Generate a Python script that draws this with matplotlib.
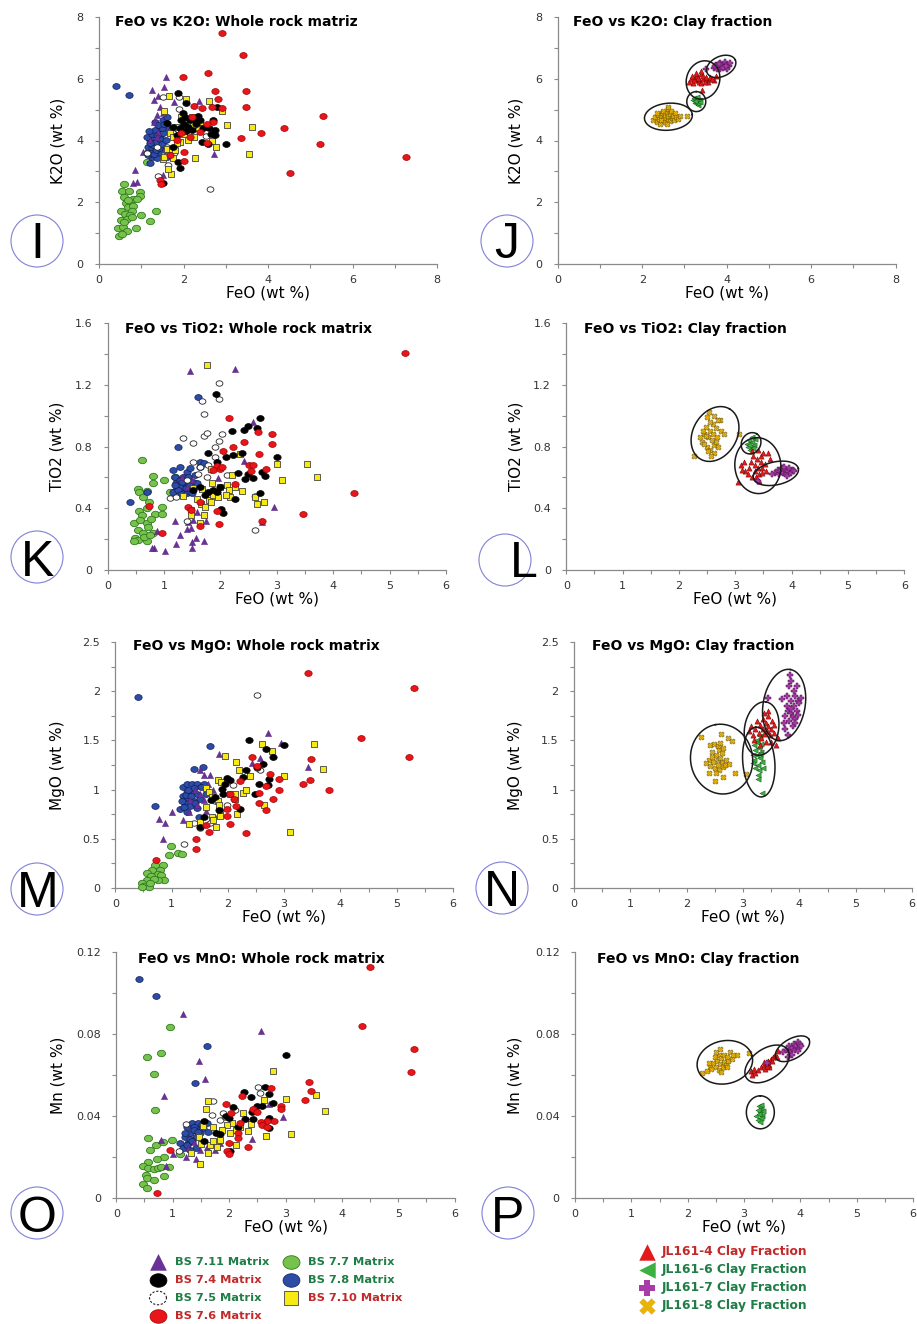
import numpy as np
import matplotlib
matplotlib.use('Agg')
import matplotlib.pyplot as plt
from matplotlib.ticker import MultipleLocator, FuncFormatter
from matplotlib.path import Path

W, H = 917, 1324

# ---------------- DATA: whole rock matrix (FeO, oxide) ----------------
# Panel I: FeO vs K2O
I_BS711 = [(1.58,6.05),(1.25,5.64),(1.54,5.73),(1.29,5.31),(1.40,5.44),(1.78,5.26),(2.37,5.29),(1.44,5.10),(1.37,4.83),(1.52,4.88),(1.29,4.61),(1.40,4.29),(1.05,3.64),(0.85,3.04),(0.80,2.63),(0.89,2.66),(1.51,2.88),(2.72,3.55),(1.37,4.12),(1.21,4.02),(1.68,4.39)]
I_BS74 = [(1.86,5.55),(2.07,5.21),(1.99,4.88),(1.60,4.58),(1.76,4.45),(2.04,4.77),(2.35,4.79),(2.39,4.66),(2.47,4.39),(2.71,4.66),(2.75,4.34),(2.75,4.18),(2.80,5.08),(3.01,3.90),(2.43,3.96),(2.59,3.89),(1.92,3.10),(1.88,3.31),(1.51,2.63),(1.92,4.39),(1.84,4.18),(2.15,4.66),(1.76,3.80),(2.00,4.55),(2.10,4.45),(2.20,4.35),(2.30,4.55),(2.05,4.30),(2.25,4.70),(1.95,4.65),(2.60,4.40),(2.65,4.20)]
I_BS75 = [(1.52,5.42),(1.89,5.42),(1.89,5.03),(2.53,4.15),(2.63,2.42),(1.40,2.86),(1.64,3.20),(1.78,3.60),(1.13,3.58),(1.60,3.80),(1.37,3.80),(1.76,4.23)]
I_BS76 = [(2.90,7.48),(3.42,6.76),(2.59,6.19),(1.99,6.07),(2.75,5.61),(3.47,5.61),(2.82,5.34),(3.47,5.09),(2.67,5.09),(2.92,5.05),(2.26,5.12),(2.44,5.04),(5.29,4.78),(4.37,4.40),(3.83,4.25),(3.35,4.08),(5.23,3.90),(7.27,3.47),(4.51,2.95),(2.71,4.59),(2.55,4.53),(2.19,4.77),(2.00,3.64),(2.00,3.33),(1.44,2.72),(1.47,2.58),(2.15,4.12),(1.95,4.23),(1.68,3.53),(1.84,4.02),(2.39,4.29),(2.55,3.91)]
I_BS77 = [(0.60,2.58),(0.54,2.36),(0.72,2.36),(0.58,2.18),(0.97,2.32),(0.96,2.20),(0.80,2.10),(0.91,2.12),(0.64,1.99),(0.69,1.85),(0.81,1.87),(0.51,1.72),(0.77,1.72),(1.35,1.71),(0.99,1.60),(0.62,1.63),(0.73,1.58),(0.51,1.44),(0.66,1.47),(1.21,1.40),(0.77,1.53),(0.88,1.18),(0.46,1.17),(0.56,1.20),(0.66,1.06),(0.48,0.90),(0.54,0.98),(1.13,3.29),(0.58,1.36),(0.69,2.07)]
I_BS78 = [(0.41,5.76),(0.71,5.47),(1.21,3.28),(1.17,3.64),(1.25,3.47),(1.33,3.80),(1.21,4.02),(1.29,4.12),(1.37,4.29),(1.44,4.45),(1.52,4.66),(1.60,4.77),(1.64,4.39),(1.48,3.96),(1.40,3.58),(1.56,3.69),(1.29,3.91),(1.17,3.80),(1.37,3.42),(1.25,3.75),(1.44,4.12),(1.52,4.23),(1.13,4.12),(1.33,4.61),(1.60,3.47),(1.15,3.52),(1.22,3.60),(1.30,3.55),(1.35,3.68),(1.42,3.75),(1.28,3.85),(1.36,3.95),(1.45,4.05),(1.25,4.20),(1.32,4.35),(1.50,4.40),(1.40,4.50),(1.55,4.55),(1.20,3.92),(1.48,3.88),(1.38,4.18),(1.58,4.02),(1.18,4.30)]
I_BS710 = [(1.66,5.43),(2.07,5.34),(2.61,5.28),(2.92,4.96),(1.54,4.95),(3.02,4.49),(3.61,4.45),(3.55,3.56),(2.27,3.43),(2.78,3.79),(2.67,3.97),(1.70,2.93),(1.64,3.08),(1.76,3.43),(1.52,3.39),(1.55,3.47),(2.19,4.77),(2.03,4.56),(1.84,4.45),(1.95,4.34),(2.11,4.39),(1.68,4.23),(1.76,4.12),(1.91,3.96),(2.11,4.02),(1.60,3.74),(1.72,3.74),(1.84,3.91),(2.35,4.39),(2.23,4.50),(1.95,4.77),(2.00,4.20),(2.25,4.10),(1.80,3.70),(2.40,4.60)]

# Panel K: FeO vs TiO2
K_BS711 = [(1.46,1.291),(2.25,1.306),(2.57,0.962),(2.42,0.707),(2.95,0.411),(2.73,0.309),(1.19,0.318),(1.28,0.227),(1.22,0.166),(1.02,0.125),(0.83,0.141),(0.78,0.141),(0.88,0.253),(1.40,0.264),(1.57,0.205),(1.70,0.190),(1.50,0.179),(1.50,0.141),(1.74,0.318),(1.48,0.275),(1.52,0.324),(1.43,0.309),(1.58,0.378),(1.31,0.605),(1.49,0.584),(1.40,0.541),(1.96,0.595)]
K_BS74 = [(1.92,1.144),(2.71,0.986),(2.48,0.932),(2.64,0.919),(2.20,0.902),(2.42,0.908),(1.78,0.757),(2.09,0.733),(2.22,0.748),(2.38,0.761),(3.00,0.733),(1.93,0.703),(2.31,0.627),(2.49,0.623),(2.58,0.595),(2.73,0.636),(2.79,0.610),(2.44,0.590),(2.70,0.497),(2.26,0.463),(2.01,0.396),(2.05,0.368),(1.87,0.519),(1.78,0.508),(1.99,0.541),(1.64,0.541),(1.52,0.519),(1.72,0.486),(1.93,0.508)]
K_BS75 = [(1.98,1.211),(1.98,1.107),(1.68,1.096),(1.71,1.010),(1.34,0.856),(1.52,0.826),(1.71,0.869),(1.77,0.886),(2.03,0.880),(1.97,0.837),(1.91,0.800),(1.90,0.735),(1.52,0.703),(1.64,0.670),(1.78,0.681),(1.61,0.623),(2.11,0.616),(2.61,0.480),(2.61,0.259),(1.40,0.320),(1.11,0.465),(1.22,0.476),(1.40,0.584),(1.76,0.605),(1.84,0.649)]
K_BS76 = [(5.28,1.41),(4.36,0.497),(3.46,0.365),(2.15,0.984),(2.23,0.798),(2.04,0.772),(2.42,0.828),(2.66,0.893),(2.92,0.884),(2.92,0.817),(2.68,0.755),(2.51,0.681),(2.58,0.681),(2.80,0.657),(1.94,0.675),(1.99,0.653),(2.55,0.640),(2.25,0.556),(2.74,0.318),(1.98,0.298),(1.94,0.381),(1.63,0.288),(1.43,0.411),(1.47,0.389),(0.74,0.417),(0.96,0.240),(1.87,0.649),(2.02,0.670),(1.64,0.443)]
K_BS77 = [(0.60,0.714),(0.80,0.612),(0.80,0.566),(0.54,0.525),(0.56,0.508),(0.70,0.515),(1.00,0.584),(1.20,0.605),(1.11,0.508),(0.63,0.476),(0.74,0.443),(0.97,0.411),(0.55,0.385),(0.69,0.400),(0.84,0.363),(0.96,0.361),(0.61,0.357),(0.47,0.303),(0.57,0.324),(0.70,0.303),(0.76,0.329),(0.53,0.259),(0.71,0.281),(0.63,0.238),(0.81,0.242),(0.48,0.205),(0.54,0.195),(0.46,0.190),(0.69,0.190),(0.65,0.216),(0.75,0.227)]
K_BS78 = [(1.60,1.120),(1.25,0.800),(0.70,0.508),(0.40,0.441),(1.15,0.649),(1.29,0.670),(1.64,0.703),(1.40,0.638),(1.19,0.605),(1.22,0.562),(1.28,0.584),(1.34,0.551),(1.37,0.519),(1.43,0.562),(1.49,0.541),(1.31,0.508),(1.22,0.519),(1.40,0.497),(1.52,0.573),(1.55,0.616),(1.34,0.605),(1.46,0.508),(1.16,0.508),(1.58,0.562),(1.28,0.541),(1.64,0.670),(1.70,0.692),(1.46,0.659),(1.25,0.520),(1.32,0.570),(1.38,0.530),(1.45,0.550),(1.30,0.490),(1.42,0.600),(1.20,0.550),(1.50,0.500)]
K_BS710 = [(1.77,1.330),(2.35,0.750),(3.01,0.690),(3.54,0.685),(3.71,0.601),(3.10,0.586),(2.21,0.614),(1.83,0.657),(1.52,0.530),(1.33,0.480),(1.68,0.528),(1.85,0.562),(1.99,0.541),(2.12,0.551),(2.15,0.519),(2.17,0.476),(2.26,0.541),(2.39,0.515),(2.61,0.476),(2.78,0.443),(2.65,0.428),(1.59,0.458),(1.65,0.428),(1.73,0.406),(1.48,0.389),(1.47,0.357),(1.71,0.359),(1.63,0.303),(1.79,0.454),(1.87,0.486),(1.96,0.476),(1.84,0.443),(2.10,0.486)]

# Panel M: FeO vs MgO
M_BS711 = [(2.72,1.58),(2.94,1.47),(3.42,1.23),(2.57,1.32),(2.42,1.27),(1.84,1.36),(1.50,1.20),(1.57,1.15),(1.69,1.15),(0.78,0.70),(0.88,0.66),(1.01,0.77),(0.85,0.50),(1.20,0.69),(1.31,0.77),(1.50,0.96),(1.42,1.00),(1.57,0.89),(1.33,0.89),(1.74,1.00),(1.65,1.06),(1.45,0.84),(1.62,0.78)]
M_BS74 = [(2.38,1.50),(2.67,1.41),(3.00,1.45),(2.80,1.33),(2.63,1.26),(2.51,1.23),(2.32,1.20),(1.98,1.12),(2.04,1.10),(1.95,1.06),(2.26,1.13),(2.56,1.06),(2.73,1.11),(2.72,1.05),(2.48,0.96),(1.92,0.96),(1.78,0.92),(1.70,0.89),(1.84,0.79),(2.22,0.80),(1.58,0.72),(1.50,0.62),(1.89,1.01)]
M_BS75 = [(2.51,1.96),(1.22,0.45),(2.10,1.05),(2.57,1.20),(2.51,1.22),(1.99,0.84),(1.74,0.72),(1.68,0.66),(1.50,0.61),(1.39,0.66),(1.77,0.88),(1.86,0.78)]
M_BS76 = [(3.42,2.19),(5.30,2.03),(4.36,1.52),(5.22,1.33),(3.47,1.31),(3.34,1.06),(3.46,1.10),(3.80,1.00),(2.91,1.11),(2.91,1.00),(2.81,0.90),(2.74,1.16),(2.67,1.04),(2.56,0.86),(2.67,0.79),(2.33,0.56),(2.42,1.33),(2.51,1.24),(2.22,1.09),(2.03,0.96),(2.14,0.83),(1.98,0.80),(1.98,0.73),(2.04,0.65),(1.67,0.57),(1.62,0.64),(1.44,0.50),(1.43,0.40),(0.73,0.28),(2.56,0.97),(2.11,0.90)]
M_BS77 = [(0.99,0.43),(0.96,0.34),(1.12,0.36),(1.19,0.35),(0.70,0.23),(0.85,0.23),(0.79,0.18),(0.66,0.18),(0.56,0.15),(0.75,0.14),(0.81,0.13),(0.64,0.12),(0.86,0.08),(0.75,0.08),(0.56,0.08),(0.47,0.05),(0.51,0.02),(0.59,0.01),(0.47,0.01),(0.69,0.09),(0.62,0.05)]
M_BS78 = [(0.40,1.94),(1.68,1.44),(1.40,1.21),(1.55,1.23),(0.70,0.83),(1.20,1.03),(1.27,1.06),(1.36,1.06),(1.45,1.06),(1.58,1.06),(1.27,0.98),(1.36,1.00),(1.45,0.96),(1.21,0.93),(1.30,0.91),(1.39,0.88),(1.24,0.86),(1.33,0.83),(1.45,0.81),(1.18,0.88),(1.15,0.80),(1.27,0.77),(1.49,0.72),(1.53,1.03),(1.62,0.96),(1.25,0.95),(1.35,0.93),(1.40,1.02),(1.30,1.00),(1.50,0.90),(1.22,0.82),(1.42,0.86)]
M_BS710 = [(1.95,1.34),(2.60,1.46),(2.78,1.39),(3.53,1.46),(3.00,1.14),(3.69,1.21),(3.11,0.57),(2.14,1.28),(2.20,1.20),(2.39,1.14),(1.82,1.10),(1.87,1.08),(2.26,0.97),(2.33,1.00),(2.04,0.96),(2.13,0.90),(2.13,0.96),(1.62,1.02),(1.67,0.98),(1.71,0.92),(1.83,0.88),(1.84,0.84),(1.62,0.82),(2.65,0.84),(2.16,0.75),(1.86,0.73),(1.71,0.72),(1.79,0.62),(1.31,0.65),(1.50,0.67),(1.74,0.69)]

# Panel O: FeO vs MnO
O_BS711 = [(1.19,0.0898),(2.57,0.0816),(1.47,0.0670),(1.57,0.0580),(0.85,0.0499),(2.71,0.0457),(2.95,0.0397),(2.40,0.0286),(0.79,0.0283),(0.88,0.0158),(1.01,0.0213),(1.23,0.0198),(1.42,0.0189),(1.48,0.0234),(1.27,0.0246),(1.37,0.0275),(1.60,0.0250),(1.75,0.0234),(1.84,0.0267)]
O_BS74 = [(3.00,0.0698),(2.64,0.0540),(2.71,0.0509),(2.26,0.0515),(2.38,0.0491),(2.49,0.0449),(2.58,0.0449),(2.78,0.0462),(2.41,0.0420),(2.29,0.0384),(2.43,0.0384),(2.71,0.0389),(2.71,0.0340),(1.94,0.0402),(1.99,0.0389),(1.56,0.0376),(1.77,0.0319),(1.84,0.0312),(2.02,0.0229),(1.55,0.0278),(2.15,0.0348),(2.07,0.0446)]
O_BS75 = [(2.51,0.0541),(2.55,0.0511),(1.71,0.0473),(1.70,0.0407),(1.90,0.0416),(2.10,0.0428),(1.23,0.0363),(1.11,0.0231),(1.84,0.0380),(1.93,0.0397)]
O_BS76 = [(4.50,0.1125),(4.36,0.0841),(5.28,0.0727),(5.22,0.0613),(3.42,0.0564),(3.46,0.0524),(3.35,0.0478),(2.92,0.0449),(2.92,0.0434),(2.80,0.0377),(2.74,0.0537),(2.67,0.0376),(2.57,0.0372),(2.58,0.0356),(2.67,0.0348),(2.23,0.0498),(2.43,0.0433),(1.94,0.0457),(2.03,0.0413),(2.15,0.0315),(2.15,0.0291),(1.99,0.0270),(1.96,0.0231),(1.99,0.0215),(2.34,0.0247),(0.96,0.0234),(0.73,0.0026),(2.19,0.0364),(2.49,0.0421)]
O_BS77 = [(0.96,0.0834),(0.54,0.0686),(0.80,0.0706),(0.67,0.0603),(0.69,0.0429),(0.56,0.0294),(0.99,0.0283),(0.60,0.0234),(0.70,0.0259),(0.82,0.0272),(0.85,0.0202),(0.72,0.0190),(0.57,0.0177),(0.48,0.0158),(0.57,0.0145),(0.66,0.0141),(0.74,0.0145),(0.79,0.0153),(0.94,0.0150),(0.52,0.0112),(0.54,0.0096),(0.66,0.0088),(0.85,0.0109),(0.48,0.0067),(0.54,0.0047),(1.13,0.0213)]
O_BS78 = [(0.41,0.1067),(0.70,0.0984),(1.60,0.0740),(1.40,0.0563),(1.13,0.0270),(1.22,0.0299),(1.31,0.0315),(1.40,0.0332),(1.48,0.0348),(1.60,0.0364),(1.25,0.0348),(1.34,0.0367),(1.45,0.0367),(1.54,0.0340),(1.18,0.0242),(1.28,0.0267),(1.42,0.0299),(1.48,0.0315),(1.63,0.0324),(1.22,0.0315),(1.37,0.0348),(1.42,0.0242),(1.31,0.0234),(1.30,0.0290),(1.38,0.0330),(1.45,0.0320),(1.26,0.0260),(1.52,0.0355),(1.35,0.0280)]
O_BS710 = [(2.77,0.0620),(3.01,0.0483),(3.54,0.0502),(3.70,0.0424),(3.10,0.0314),(2.65,0.0304),(2.12,0.0259),(2.61,0.0478),(2.25,0.0413),(1.63,0.0473),(1.59,0.0433),(2.39,0.0361),(2.34,0.0327),(2.19,0.0348),(2.05,0.0367),(1.96,0.0356),(1.87,0.0332),(1.72,0.0348),(1.54,0.0353),(1.47,0.0299),(1.51,0.0262),(1.66,0.0259),(1.78,0.0250),(1.72,0.0278),(1.48,0.0164),(1.32,0.0218),(1.63,0.0221),(1.84,0.0283),(2.02,0.0315),(2.13,0.0332)]

# ---------------- DATA: clay fraction ----------------
J_JL4 = [(3.10,5.90),(3.15,6.00),(3.20,5.85),(3.25,6.05),(3.30,5.95),(3.30,6.10),(3.35,5.90),(3.35,6.00),(3.40,6.15),(3.40,5.85),(3.45,6.00),(3.45,6.10),(3.50,5.95),(3.50,6.05),(3.55,5.90),(3.60,6.00),(3.60,6.05),(3.70,5.95),(3.75,6.10),(3.28,6.20),(3.38,6.25),(3.42,5.65),(3.22,5.95),(3.48,5.88),(3.65,5.98),(3.32,6.02),(3.18,6.10)]
J_JL6 = [(3.20,5.30),(3.25,5.20),(3.30,5.35),(3.28,5.25),(3.35,5.30),(3.22,5.38),(3.32,5.15),(3.27,5.32),(3.30,5.22),(3.24,5.27),(3.36,5.24),(3.29,5.40)]
J_JL7 = [(3.70,6.35),(3.75,6.45),(3.80,6.40),(3.85,6.50),(3.85,6.30),(3.90,6.45),(3.95,6.38),(3.95,6.55),(4.00,6.45),(4.05,6.40),(4.00,6.30),(3.78,6.32),(3.88,6.42),(3.92,6.35),(4.08,6.50),(3.82,6.48),(3.98,6.42),(3.72,6.42),(3.50,6.30)]
J_JL8 = [(2.25,4.65),(2.30,4.75),(2.35,4.60),(2.38,4.82),(2.40,4.70),(2.42,4.55),(2.45,4.78),(2.47,4.88),(2.50,4.65),(2.50,4.95),(2.52,4.72),(2.55,4.82),(2.55,4.60),(2.58,4.90),(2.60,4.70),(2.60,5.02),(2.62,4.78),(2.65,4.85),(2.65,4.62),(2.68,4.95),(2.70,4.72),(2.72,4.80),(2.75,4.68),(2.78,4.88),(2.80,4.75),(2.85,4.70),(2.90,4.80),(3.05,4.80),(2.45,4.68),(2.58,4.55),(2.35,4.90),(2.62,5.10)]

L_JL4 = [(3.05,0.57),(3.10,0.68),(3.15,0.70),(3.18,0.64),(3.22,0.62),(3.25,0.66),(3.28,0.70),(3.30,0.60),(3.32,0.74),(3.35,0.68),(3.35,0.64),(3.38,0.72),(3.40,0.66),(3.40,0.78),(3.42,0.62),(3.45,0.70),(3.45,0.74),(3.48,0.66),(3.50,0.76),(3.52,0.69),(3.55,0.64),(3.58,0.76),(3.62,0.72),(3.30,0.77),(3.42,0.58),(3.12,0.65),(3.37,0.60),(3.47,0.63)]
L_JL6 = [(3.20,0.82),(3.25,0.84),(3.28,0.80),(3.30,0.83),(3.33,0.81),(3.26,0.78),(3.22,0.80),(3.35,0.85),(3.29,0.86),(3.24,0.81),(3.31,0.79)]
L_JL7 = [(3.70,0.63),(3.75,0.65),(3.78,0.62),(3.80,0.64),(3.83,0.66),(3.85,0.63),(3.88,0.65),(3.90,0.62),(3.93,0.64),(3.95,0.66),(3.98,0.63),(4.02,0.65),(4.05,0.64),(3.40,0.58),(3.86,0.67),(3.92,0.61),(3.65,0.62)]
L_JL8 = [(2.27,0.742),(2.54,1.025),(3.07,0.882),(2.73,0.973),(2.40,0.83),(2.45,0.88),(2.48,0.93),(2.50,0.80),(2.52,0.86),(2.55,0.90),(2.55,0.78),(2.58,0.84),(2.60,0.95),(2.60,0.88),(2.62,0.81),(2.65,0.92),(2.63,0.76),(2.68,0.86),(2.70,0.97),(2.55,0.96),(2.45,0.82),(2.38,0.86),(2.42,0.90),(2.57,0.74),(2.75,0.90),(2.80,0.88),(2.50,0.99),(2.62,1.00),(2.48,0.87),(2.66,0.83),(2.52,0.77),(2.70,0.80)]

N_JL4 = [(3.10,1.60),(3.15,1.65),(3.18,1.55),(3.22,1.62),(3.25,1.70),(3.28,1.58),(3.30,1.66),(3.32,1.52),(3.35,1.72),(3.35,1.62),(3.38,1.56),(3.40,1.68),(3.42,1.60),(3.45,1.75),(3.45,1.65),(3.48,1.55),(3.50,1.62),(3.52,1.70),(3.55,1.58),(3.58,1.45),(3.40,1.48),(3.30,1.45),(3.50,1.48),(3.62,1.52),(3.45,1.80),(3.38,1.78),(3.20,1.50),(3.55,1.66)]
N_JL6 = [(3.33,0.97),(3.27,1.11),(3.18,1.27),(3.30,1.54),(3.20,1.45),(3.25,1.48),(3.22,1.40),(3.28,1.42),(3.32,1.38),(3.24,1.35),(3.30,1.32),(3.20,1.30),(3.26,1.25),(3.34,1.28),(3.28,1.20),(3.22,1.22),(3.35,1.22),(3.30,1.36),(3.18,1.35),(3.25,1.50),(3.32,1.46),(3.27,1.15)]
N_JL7 = [(3.72,1.68),(3.75,1.75),(3.78,1.85),(3.80,1.80),(3.82,1.70),(3.85,1.90),(3.85,1.78),(3.88,1.74),(3.90,1.85),(3.92,1.95),(3.95,1.80),(3.98,1.90),(4.00,1.88),(3.82,2.05),(3.85,2.10),(3.83,2.16),(3.90,2.00),(3.95,2.05),(3.78,1.95),(3.70,1.92),(3.88,1.65),(3.93,1.72),(3.80,1.55),(3.75,1.62),(3.86,1.82),(3.98,1.76),(4.03,1.93),(3.45,1.93),(3.92,1.68)]
N_JL8 = [(2.25,1.53),(2.61,1.57),(2.73,1.52),(2.80,1.49),(2.40,1.17),(2.50,1.09),(2.86,1.17),(3.05,1.16),(2.65,1.13),(2.65,1.23),(2.42,1.45),(2.48,1.46),(2.55,1.44),(2.60,1.47),(2.45,1.38),(2.52,1.35),(2.58,1.40),(2.62,1.37),(2.40,1.30),(2.47,1.28),(2.55,1.30),(2.62,1.28),(2.68,1.25),(2.42,1.24),(2.50,1.22),(2.58,1.20),(2.45,1.33),(2.60,1.32),(2.70,1.30),(2.75,1.26),(2.55,1.25),(2.65,1.42),(2.35,1.27),(2.52,1.17)]

P_JL4 = [(3.12,0.0620),(3.15,0.0600),(3.20,0.0610),(3.25,0.0625),(3.30,0.0640),(3.35,0.0650),(3.38,0.0630),(3.40,0.0660),(3.42,0.0670),(3.45,0.0650),(3.48,0.0680),(3.50,0.0670),(3.52,0.0690),(3.55,0.0700),(3.58,0.0690),(3.35,0.0665),(3.45,0.0640),(3.40,0.0645),(3.60,0.0715),(3.18,0.0630)]
P_JL6 = [(3.22,0.0400),(3.25,0.0380),(3.28,0.0420),(3.30,0.0440),(3.32,0.0400),(3.27,0.0450),(3.30,0.0390),(3.24,0.0430),(3.33,0.0425),(3.26,0.0410),(3.29,0.0370),(3.31,0.0455)]
P_JL7 = [(3.75,0.0720),(3.80,0.0740),(3.82,0.0710),(3.85,0.0730),(3.88,0.0750),(3.90,0.0720),(3.92,0.0740),(3.95,0.0760),(3.98,0.0730),(4.00,0.0750),(4.02,0.0740),(3.85,0.0700),(3.95,0.0715),(3.78,0.0690),(3.70,0.0710),(3.40,0.0660)]
P_JL8 = [(3.09,0.0706),(2.87,0.0698),(2.25,0.0608),(2.40,0.0640),(2.45,0.0660),(2.48,0.0690),(2.50,0.0640),(2.52,0.0670),(2.55,0.0700),(2.55,0.0625),(2.58,0.0655),(2.60,0.0685),(2.62,0.0640),(2.65,0.0700),(2.65,0.0665),(2.68,0.0650),(2.70,0.0690),(2.72,0.0670),(2.75,0.0710),(2.78,0.0680),(2.42,0.0630),(2.38,0.0660),(2.60,0.0615),(2.50,0.0710),(2.58,0.0725),(2.35,0.0620),(2.70,0.0640),(2.80,0.0700)]

# group ellipses: (centre FeO, centre oxide, semi-axis a px, semi-axis b px, angle deg)
J_ELL = [(2.62,4.77,24,13.5,5),(3.28,5.26,10,9.5,90),(3.44,5.96,19.5,16.5,70),(3.87,6.40,15.5,10,25)]
L_ELL = [(2.64,0.882,29,22,60),(3.28,0.822,11,9.5,60),(3.40,0.677,28,23,95),(3.72,0.627,23,11.5,12)]
N_ELL = [(2.62,1.31,35,31,100),(3.28,1.28,35,16,95),(3.33,1.62,27,17,80),(3.73,1.86,36,21,80)]
P_ELL = [(2.66,0.0662,28,21.5,12),(3.29,0.0418,16.5,14,90),(3.41,0.0654,25,15,35),(3.86,0.0728,19,10,30)]

# ---------------- STYLES ----------------
_t = np.linspace(0, 2*np.pi, 25)
OVAL = Path(np.column_stack([np.cos(_t), 0.8*np.sin(_t)]), closed=True)

WR_STYLE = {
    'BS77':  dict(marker=OVAL, s=34, facecolors='#76c24c', edgecolors='#2f7a1e', linewidths=0.6),
    'BS78':  dict(marker=OVAL, s=28, facecolors='#2c4ca8', edgecolors='#0e1d55', linewidths=0.5),
    'BS711': dict(marker='^', s=20, facecolors='#6c3199', edgecolors='#4a1a70', linewidths=0.3),
    'BS75':  dict(marker=OVAL, s=24, facecolors='white', edgecolors='#222222', linewidths=0.6),
    'BS710': dict(marker='s', s=24, facecolors='#f7ea12', edgecolors='#444444', linewidths=0.6),
    'BS74':  dict(marker=OVAL, s=28, facecolors='black', edgecolors='black', linewidths=0.5),
    'BS76':  dict(marker=OVAL, s=28, facecolors='#e8151b', edgecolors='#a00000', linewidths=0.5),
}
CL_STYLE = {
    'JL8': dict(marker='X', s=15, facecolors='#e8b40c', edgecolors='#6b5200', linewidths=0.35),
    'JL6': dict(marker='<', s=14, facecolors='#3cb043', edgecolors='#17561a', linewidths=0.35),
    'JL4': dict(marker='^', s=14, facecolors='#e31a1c', edgecolors='#700000', linewidths=0.35),
    'JL7': dict(marker='P', s=15, facecolors='#a83ca8', edgecolors='#4a104a', linewidths=0.35),
}

fig = plt.figure(figsize=(W/100, H/100), dpi=100)

def make_axes(l, r, t, b):
    return fig.add_axes([l/W, 1-b/H, (r-l)/W, (b-t)/H])

def fmt(v, p):
    return f"{round(v, 4):g}"

def style_axes(ax, xmax, ymax, xmaj, xmin_, ymaj, ymin_, ylabel, title, tdx, tdy, ylab_x):
    ax.set_xlim(0, xmax)
    ax.set_ylim(0, ymax)
    for s in ['top', 'right']:
        ax.spines[s].set_visible(False)
    for s in ['left', 'bottom']:
        ax.spines[s].set_color('#8a8a8a')
        ax.spines[s].set_linewidth(0.9)
    ax.xaxis.set_major_locator(MultipleLocator(xmaj))
    ax.xaxis.set_minor_locator(MultipleLocator(xmin_))
    ax.yaxis.set_major_locator(MultipleLocator(ymaj))
    ax.yaxis.set_minor_locator(MultipleLocator(ymin_))
    ax.xaxis.set_major_formatter(FuncFormatter(fmt))
    ax.yaxis.set_major_formatter(FuncFormatter(fmt))
    ax.tick_params(which='both', direction='out', length=3, width=0.8, color='#8a8a8a')
    ax.tick_params(axis='x', pad=5, labelsize=8, labelcolor='#333333')
    ax.tick_params(axis='y', pad=8, labelsize=8, labelcolor='#333333')
    for lab in ax.get_xticklabels() + ax.get_yticklabels():
        lab.set_family('DejaVu Sans')
    ax.set_xlabel('FeO (wt %)', fontsize=11, family='DejaVu Sans', va='top')
    ax.xaxis.set_label_coords(0.5, -0.088)
    ax.set_ylabel(ylabel, fontsize=11, family='DejaVu Sans')
    ax.yaxis.set_label_coords(ylab_x, 0.5)
    ax.annotate(title, xy=(0, 1), xycoords='axes fraction', xytext=(tdx, -tdy),
                textcoords='offset pixels', ha='left', va='center', fontsize=10,
                fontweight='bold', family='DejaVu Sans')
    ax.patch.set_alpha(0)

def plot_series(ax, pts, st, z):
    a = np.array(pts)
    ax.scatter(a[:, 0], a[:, 1], zorder=z, clip_on=False, **st)

def draw_ellipse(ax, e):
    cx, cy, a, b, ang = e
    t = np.linspace(0, 2*np.pi, 240)
    th = np.deg2rad(ang)
    u = a*np.cos(t)*np.cos(th) - b*np.sin(t)*np.sin(th)
    v = a*np.cos(t)*np.sin(th) + b*np.sin(t)*np.cos(th)
    c = ax.transData.transform((cx, cy))
    pts = ax.transData.inverted().transform(np.column_stack([c[0]+u, c[1]+v]))
    ax.plot(pts[:, 0], pts[:, 1], color='#1a1a1a', lw=1.1, zorder=5)

# panel layout (pixel boxes)
axI = make_axes(99, 437, 17, 264)
axJ = make_axes(557.7, 895.7, 17, 264)
axK = make_axes(107.7, 446, 323.3, 570)
axL = make_axes(566.3, 904.3, 323.3, 570)
axM = make_axes(115.3, 453, 642, 888)
axN = make_axes(574, 912, 642, 888)
axO = make_axes(116.3, 454.7, 952, 1198)
axP = make_axes(575, 913, 952, 1198)

style_axes(axI, 8, 8, 2, 1, 2, 1, 'K2O (wt %)', 'FeO vs K2O: Whole rock matriz', 16, 5, -0.098)
style_axes(axJ, 8, 8, 2, 1, 2, 1, 'K2O (wt %)', 'FeO vs K2O: Clay fraction', 15, 5, -0.100)
style_axes(axK, 6, 1.6, 1, 0.5, 0.4, 0.2, 'TiO2 (wt %)', 'FeO vs TiO2: Whole rock matrix', 17, 6, -0.127)
style_axes(axL, 6, 1.6, 1, 0.5, 0.4, 0.2, 'TiO2 (wt %)', 'FeO vs TiO2: Clay fraction', 18, 6, -0.127)
style_axes(axM, 6, 2.5, 1, 0.5, 0.5, 0.25, 'MgO (wt %)', 'FeO vs MgO: Whole rock matrix', 18, 4, -0.148)
style_axes(axN, 6, 2.5, 1, 0.5, 0.5, 0.25, 'MgO (wt %)', 'FeO vs MgO: Clay fraction', 18, 4, -0.151)
style_axes(axO, 6, 0.12, 1, 0.5, 0.04, 0.02, 'Mn (wt %)', 'FeO vs MnO: Whole rock matrix', 22, 7, -0.151)
style_axes(axP, 6, 0.12, 1, 0.5, 0.04, 0.02, 'Mn (wt %)', 'FeO vs MnO: Clay fraction', 22, 7, -0.154)

WR_PANELS = [
    (axI, [('BS77', I_BS77), ('BS78', I_BS78), ('BS711', I_BS711), ('BS75', I_BS75), ('BS710', I_BS710), ('BS74', I_BS74), ('BS76', I_BS76)]),
    (axK, [('BS77', K_BS77), ('BS78', K_BS78), ('BS711', K_BS711), ('BS75', K_BS75), ('BS710', K_BS710), ('BS74', K_BS74), ('BS76', K_BS76)]),
    (axM, [('BS77', M_BS77), ('BS78', M_BS78), ('BS711', M_BS711), ('BS75', M_BS75), ('BS710', M_BS710), ('BS74', M_BS74), ('BS76', M_BS76)]),
    (axO, [('BS77', O_BS77), ('BS78', O_BS78), ('BS711', O_BS711), ('BS75', O_BS75), ('BS710', O_BS710), ('BS74', O_BS74), ('BS76', O_BS76)]),
]
for ax, series in WR_PANELS:
    for z, (key, pts) in enumerate(series):
        plot_series(ax, pts, WR_STYLE[key], 3 + z*0.1)

CL_PANELS = [
    (axJ, [('JL8', J_JL8), ('JL6', J_JL6), ('JL4', J_JL4), ('JL7', J_JL7)], J_ELL),
    (axL, [('JL8', L_JL8), ('JL6', L_JL6), ('JL4', L_JL4), ('JL7', L_JL7)], L_ELL),
    (axN, [('JL8', N_JL8), ('JL6', N_JL6), ('JL4', N_JL4), ('JL7', N_JL7)], N_ELL),
    (axP, [('JL8', P_JL8), ('JL6', P_JL6), ('JL4', P_JL4), ('JL7', P_JL7)], P_ELL),
]
for ax, series, ells in CL_PANELS:
    for z, (key, pts) in enumerate(series):
        plot_series(ax, pts, CL_STYLE[key], 3 + z*0.1)
    for e in ells:
        draw_ellipse(ax, e)

# overlay in pixel coordinates for panel letters and legends
ov = fig.add_axes([0, 0, 1, 1], zorder=10)
ov.set_xlim(0, W)
ov.set_ylim(H, 0)
ov.axis('off')
ov.patch.set_alpha(0)

BADGES = [('I', 37, 241, 37, 258), ('J', 507, 241, 507, 258), ('K', 37, 557, 38, 576),
          ('L', 505, 560, 524, 577), ('M', 37, 889, 38, 907), ('N', 502, 888, 502, 906),
          ('O', 37, 1213, 37, 1232), ('P', 508, 1213, 508, 1232)]
for letter, cx, cy, tx, ty in BADGES:
    ov.add_patch(plt.Circle((cx, cy), 26, fill=False, ec='#8080d8', lw=0.8))
    ov.text(tx, ty, letter, ha='center', va='baseline', fontsize=36,
            family='Liberation Sans', color='black')

GREEN_T = '#1f7d46'
RED_T = '#c22a2a'
LEG_WR = [
    ('BS 7.11 Matrix', 'BS711', 158, 175, 1262, GREEN_T),
    ('BS 7.4 Matrix', 'BS74', 158, 175, 1280, RED_T),
    ('BS 7.5 Matrix', 'BS75', 158, 175, 1298, GREEN_T),
    ('BS 7.6 Matrix', 'BS76', 158, 175, 1316, RED_T),
    ('BS 7.7 Matrix', 'BS77', 291, 308, 1262, GREEN_T),
    ('BS 7.8 Matrix', 'BS78', 291, 308, 1280, GREEN_T),
    ('BS 7.10 Matrix', 'BS710', 291, 308, 1298, RED_T),
]
for label, key, mx, tx, y, col in LEG_WR:
    st = dict(WR_STYLE[key])
    st['s'] = {'BS711': 130, 'BS710': 95}.get(key, 150)
    if key == 'BS75':
        st['linestyles'] = (0, (2, 1.5))
        st['linewidths'] = 0.8
    ov.scatter([mx], [y], **st)
    ov.text(tx, y, label, ha='left', va='center', fontsize=8.2, fontweight='bold',
            family='DejaVu Sans', color=col)

LEG_CL = [
    ('JL161-4 Clay Fraction', 'JL4', 1252, RED_T),
    ('JL161-6 Clay Fraction', 'JL6', 1270, GREEN_T),
    ('JL161-7 Clay Fraction', 'JL7', 1288, GREEN_T),
    ('JL161-8 Clay Fraction', 'JL8', 1306, GREEN_T),
]
for label, key, y, col in LEG_CL:
    st = dict(CL_STYLE[key])
    st['s'] = 140
    st['linewidths'] = 0
    ov.scatter([647], [y], **st)
    ov.text(662, y, label, ha='left', va='center', fontsize=8.8, fontweight='bold',
            family='DejaVu Sans', color=col)

fig.savefig('out.png', dpi=100)
